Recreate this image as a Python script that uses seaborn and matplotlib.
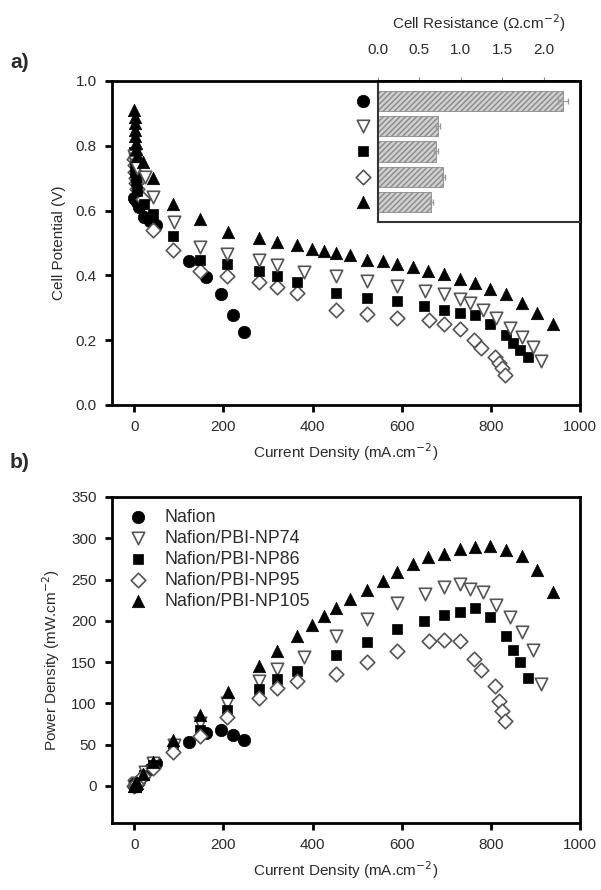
import matplotlib
matplotlib.use("Agg")
import matplotlib.pyplot as plt
import seaborn as sns
import numpy as np
import pandas as pd

# ---------------- data ----------------
series_names = ["Nafion", "Nafion/PBI-NP74", "Nafion/PBI-NP86", "Nafion/PBI-NP95", "Nafion/PBI-NP105"]

i_nafion = [0, 2, 5, 10, 22, 35, 49, 122, 162, 195, 221, 246]
v_nafion = [0.64, 0.635, 0.626, 0.612, 0.58, 0.568, 0.557, 0.445, 0.395, 0.344, 0.277, 0.226]
p_nafion = [0, 1.3, 3.1, 6, 13, 20, 28, 53, 64, 68, 62, 56]

i_np74 = [0, 1, 2, 3, 5, 24, 43, 88, 148, 208, 279, 321, 380, 452, 522, 589, 652, 694, 730, 753, 783, 811, 843, 869, 895, 912]
v_np74 = [0.77, 0.76, 0.75, 0.74, 0.73, 0.703, 0.641, 0.564, 0.487, 0.467, 0.448, 0.431, 0.41, 0.397, 0.383, 0.367, 0.352, 0.342, 0.328, 0.315, 0.294, 0.269, 0.239, 0.21, 0.179, 0.136]
p_np74 = [0, 0.8, 1.5, 2.2, 3.6, 17, 28, 50, 76, 101, 127, 141, 156, 182, 202, 221, 233, 241, 244, 239, 235, 219, 204, 187, 165, 124]

i_np86 = [0, 1, 2, 3, 5, 21, 42, 87, 148, 208, 279, 321, 366, 452, 522, 589, 650, 694, 730, 764, 798, 834, 849, 866, 884]
v_np86 = [0.78, 0.75, 0.72, 0.69, 0.66, 0.62, 0.59, 0.523, 0.448, 0.434, 0.413, 0.397, 0.38, 0.346, 0.33, 0.32, 0.305, 0.294, 0.284, 0.277, 0.249, 0.215, 0.192, 0.169, 0.149]
p_np86 = [0, 0.8, 1.4, 2.1, 3.3, 13, 25, 45, 68, 92, 117, 129, 139, 158, 174, 190, 200, 207, 211, 216, 204, 182, 165, 150, 131]

i_np95 = [0, 1, 2, 3, 4, 6, 19, 41, 86, 148, 208, 279, 321, 366, 452, 522, 589, 661, 694, 730, 762, 779, 809, 819, 826, 831]
v_np95 = [0.76, 0.74, 0.72, 0.70, 0.685, 0.667, 0.636, 0.54, 0.479, 0.413, 0.397, 0.38, 0.364, 0.347, 0.292, 0.28, 0.27, 0.261, 0.251, 0.236, 0.2, 0.176, 0.149, 0.13, 0.113, 0.092]
p_np95 = [0, 0.7, 1.4, 2.1, 2.7, 4, 12, 22, 41, 60, 83, 107, 119, 127, 135, 150, 164, 175, 177, 175, 154, 140, 121, 103, 91, 78]

i_np105 = [0, 0.5, 1, 1.5, 2, 3, 4, 5, 19, 41, 86, 148, 210, 279, 321, 366, 399, 425, 452, 485, 522, 557, 589, 625, 659, 694, 730, 764, 798, 834, 869, 903, 939]
v_np105 = [0.91, 0.89, 0.87, 0.85, 0.83, 0.81, 0.79, 0.77, 0.749, 0.70, 0.62, 0.574, 0.535, 0.516, 0.503, 0.494, 0.482, 0.475, 0.470, 0.462, 0.449, 0.443, 0.436, 0.426, 0.415, 0.403, 0.388, 0.376, 0.359, 0.342, 0.315, 0.284, 0.249]
p_np105 = [0, 0.4, 0.9, 1.3, 1.7, 2.4, 3.2, 3.9, 14, 29, 55, 86, 114, 145, 163, 182, 195, 206, 215, 226, 237, 248, 259, 269, 277, 281, 287, 289, 291, 286, 279, 261, 235]

resistance = [2.23, 0.725, 0.70, 0.79, 0.645]
resistance_err = [0.06, 0.02, 0.02, 0.02, 0.02]

# ---------------- style ----------------
sns.set_theme(style="ticks")
plt.rcParams["font.family"] = ["Liberation Sans", "DejaVu Sans"]
plt.rcParams["hatch.linewidth"] = 1.0
plt.rcParams["hatch.color"] = "#6a6a6a"
TXT = "#2b2b2b"

styles = {
    "Nafion": dict(marker="o", s=80, color="black", edgecolor="black", linewidth=0.5),
    "Nafion/PBI-NP74": dict(marker="v", s=80, color="white", edgecolor="#555555", linewidth=1.2),
    "Nafion/PBI-NP86": dict(marker="s", s=62, color="black", edgecolor="black", linewidth=0.5),
    "Nafion/PBI-NP95": dict(marker="D", s=55, color="white", edgecolor="#555555", linewidth=1.2),
    "Nafion/PBI-NP105": dict(marker="^", s=80, color="black", edgecolor="black", linewidth=0.5),
}

frames = []
for name, I, V, P in [
    ("Nafion", i_nafion, v_nafion, p_nafion),
    ("Nafion/PBI-NP74", i_np74, v_np74, p_np74),
    ("Nafion/PBI-NP86", i_np86, v_np86, p_np86),
    ("Nafion/PBI-NP95", i_np95, v_np95, p_np95),
    ("Nafion/PBI-NP105", i_np105, v_np105, p_np105),
]:
    frames.append(pd.DataFrame({"I": I, "V": V, "P": P, "membrane": name}))
df = pd.concat(frames, ignore_index=True)

fig = plt.figure(figsize=(6.01, 8.90), dpi=100)
W, H = 601.0, 890.0
ax1 = fig.add_axes([112 / W, 1 - 405 / H, 468 / W, 324 / H])
ax2 = fig.add_axes([112 / W, 1 - 823 / H, 468 / W, 326 / H])

draw_order = ["Nafion", "Nafion/PBI-NP95", "Nafion/PBI-NP86", "Nafion/PBI-NP74", "Nafion/PBI-NP105"]
for name in draw_order:
    sub = df[df["membrane"] == name]
    sns.scatterplot(data=sub, x="I", y="V", ax=ax1, legend=False, **styles[name])

for name in series_names:
    sub = df[df["membrane"] == name]
    sns.scatterplot(data=sub, x="I", y="P", ax=ax2, label=name, **styles[name])

for ax in (ax1, ax2):
    ax.set_xlim(-50, 1000)
    ax.set_xticks([0, 200, 400, 600, 800, 1000])
    for sp in ax.spines.values():
        sp.set_visible(True)
        sp.set_linewidth(2.0)
        sp.set_color("black")
    ax.tick_params(axis="both", which="major", direction="out", length=5, width=2,
                   color="black", labelsize=11, labelcolor=TXT, pad=6)
    ax.tick_params(top=False, right=False)
    ax.set_xlabel("Current Density (mA.cm$^{-2}$)", fontsize=11, color=TXT, labelpad=5)

ax1.set_ylim(0, 1.0)
ax1.set_yticks([0.0, 0.2, 0.4, 0.6, 0.8, 1.0])
ax1.set_yticklabels(["0.0", "0.2", "0.4", "0.6", "0.8", "1.0"])
ax1.set_ylabel("Cell Potential (V)", fontsize=11, color=TXT, labelpad=7)

ax2.set_ylim(-45, 350)
ax2.set_yticks([0, 50, 100, 150, 200, 250, 300, 350])
ax2.set_ylabel("Power Density (mW.cm$^{-2}$)", fontsize=11, color=TXT, labelpad=7)

leg = ax2.legend(loc="upper left", frameon=False, fontsize=12.8, handletextpad=0.7,
                 borderaxespad=0.0, labelspacing=0.22, markerscale=1.0, handlelength=1.6,
                 bbox_to_anchor=(0.01, 0.985))
for t in leg.get_texts():
    t.set_color(TXT)

# ---------------- inset: cell resistance ----------------
axin = fig.add_axes([378 / W, 1 - 222 / H, 202 / W, 141 / H])
res_df = pd.DataFrame({"membrane": series_names, "R": resistance})
sns.barplot(data=res_df, x="R", y="membrane", orient="h", ax=axin, color="#cfcfcf",
            width=0.8, edgecolor="#8a8a8a", linewidth=0.6, hatch="//////", saturation=1)
axin.errorbar(resistance, np.arange(len(resistance)), xerr=resistance_err, fmt="none",
              ecolor="#9a9a9a", elinewidth=0.8, capsize=2)
axin.set_xlim(0, 2.44)
axin.set_ylim(4.78, -0.78)
axin.set_xticks([0.0, 0.5, 1.0, 1.5, 2.0])
axin.set_xticklabels(["0.0", "0.5", "1.0", "1.5", "2.0"])
axin.xaxis.set_ticks_position("top")
axin.xaxis.set_label_position("top")
axin.tick_params(axis="x", direction="out", length=3, width=0.8, color="#888888",
                 labelsize=11, labelcolor=TXT, pad=14)
axin.set_yticks([])
axin.set_ylabel("")
axin.set_xlabel("Cell Resistance (Ω.cm$^{-2}$)", fontsize=11, color=TXT, labelpad=10)
for name, sp in axin.spines.items():
    sp.set_visible(True)
    sp.set_color("#333333")
    sp.set_linewidth(1.5)
axin.spines["top"].set_linewidth(2.0)
axin.spines["top"].set_color("black")
axin.spines["right"].set_linewidth(2.0)
axin.spines["right"].set_color("black")
for k, name in enumerate(series_names):
    st = dict(styles[name])
    st.pop("color")
    fc = "black" if name in ("Nafion", "Nafion/PBI-NP86", "Nafion/PBI-NP105") else "white"
    axin.scatter([-0.18], [k], facecolor=fc, clip_on=False, zorder=5, **st)

fig.text(10 / W, 1 - 62 / H, "a)", fontsize=15, fontweight="bold", color=TXT, va="center")
fig.text(10 / W, 1 - 462 / H, "b)", fontsize=15, fontweight="bold", color=TXT, va="center")

fig.savefig("out.png", dpi=100)
